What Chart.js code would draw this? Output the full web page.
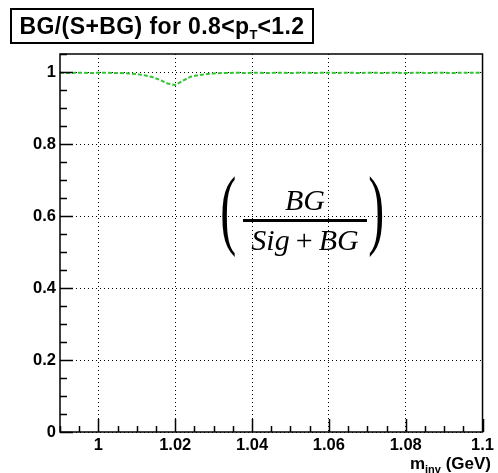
<!DOCTYPE html>
<html>
<head>
<meta charset="utf-8">
<script src="https://cdn.jsdelivr.net/npm/chart.js@4.4.1/dist/chart.umd.min.js"></script>
<style>
  html, body { margin: 0; padding: 0; background: #fff; }
  #wrap { position: relative; width: 498px; height: 473px; overflow: hidden; background: #fff; }
  #c { position: absolute; left: 0; top: 0; }
  .title { position: absolute; left: 10px; top: 8px; width: 300px; height: 32px; border: 2px solid #000;
           font-family: "Liberation Sans", Arial, sans-serif; font-weight: bold; font-size: 23px; line-height: 32px;
           letter-spacing: 0.4px; text-align: center; white-space: nowrap; box-sizing: content-box; }
  .title sub { font-size: 13px; vertical-align: -5px; line-height: 0; letter-spacing: 0; }
  .xtitle { position: absolute; right: 7px; top: 454px; font-family: "Liberation Sans", Arial, sans-serif;
            font-weight: bold; font-size: 17px; white-space: nowrap; }
  .xtitle sub { font-size: 11px; vertical-align: -4px; line-height: 0; }
  .paren { position: absolute; font-family: "Liberation Serif", "Times New Roman", serif; font-size: 80px;
           line-height: 1; transform-origin: center center; }
  .frac { position: absolute; font-family: "Liberation Serif", "Times New Roman", serif; font-style: italic;
          font-size: 30px; text-align: center; white-space: nowrap; }
  .fline { position: absolute; height: 3px; background: #000; }
</style>
</head>
<body>
<div id="wrap">
  <canvas id="c" width="498" height="473"></canvas>
  <div class="title">BG/(S+BG) for 0.8&lt;p<sub>T</sub>&lt;1.2</div>
  <div class="paren" id="lp" style="left:215px; top:168px; transform:scale(0.6,1.12);">(</div>
  <div class="paren" id="rp" style="left:363px; top:168px; transform:scale(0.6,1.12);">)</div>
  <div class="frac" style="left:243px; width:124px; top:183px;">BG</div>
  <div class="fline" style="left:243px; width:124px; top:219px;"></div>
  <div class="frac" style="left:240px; width:130px; top:223px;">Sig<span style="font-style:normal">&#8201;+&#8201;</span>BG</div>
  <div class="xtitle">m<sub>inv</sub> (GeV)</div>
</div>
<script>
// ---- data ----
const massBins = [
  0.990, 0.992, 0.994, 0.996, 0.998, 1.000, 1.002, 1.004, 1.006, 1.008,
  1.010, 1.012, 1.014, 1.016, 1.018, 1.020, 1.022, 1.024, 1.026, 1.028,
  1.030, 1.032, 1.034, 1.036, 1.038, 1.040, 1.042, 1.044, 1.046, 1.048,
  1.050, 1.052, 1.054, 1.056, 1.058, 1.060, 1.062, 1.064, 1.066, 1.068,
  1.070, 1.072, 1.074, 1.076, 1.078, 1.080, 1.082, 1.084, 1.086, 1.088,
  1.090, 1.092, 1.094, 1.096, 1.098, 1.100
];
const bgFraction = [
  0.998, 0.997, 0.998, 0.998, 0.997, 0.998, 0.998, 0.997, 0.997, 0.996,
  0.994, 0.991, 0.986, 0.978, 0.968, 0.964, 0.976, 0.987, 0.991, 0.994,
  0.996, 0.997, 0.997, 0.998, 0.997, 0.998, 0.998, 0.997, 0.998, 0.998,
  0.997, 0.998, 0.998, 0.997, 0.998, 0.998, 0.997, 0.998, 0.998, 0.997,
  0.998, 0.998, 0.997, 0.998, 0.998, 0.997, 0.998, 0.998, 0.997, 0.998,
  0.998, 0.997, 0.998, 0.998, 0.998, 0.998
];
const xMajorTicks = [1.00, 1.02, 1.04, 1.06, 1.08, 1.10];
const xTickLabels = ['1', '1.02', '1.04', '1.06', '1.08', '1.1'];
const yMajorTicks = [0, 0.2, 0.4, 0.6, 0.8, 1.0];
const yTickLabels = ['0', '0.2', '0.4', '0.6', '0.8', '1'];
const xRange = [0.99, 1.10];
const yRange = [0, 1.05];
const xMinorStep = 0.005;
const yMinorStep = 0.05;

const tickFont = { family: '"Liberation Sans", Arial, sans-serif', weight: 'bold', size: 16.5 };

const frameTicks = {
  id: 'frameTicks',
  afterDraw(chart) {
    const { ctx, chartArea: a, scales: { x, y } } = chart;
    ctx.save();
    ctx.strokeStyle = '#000';
    ctx.lineWidth = 1.5;
    ctx.strokeRect(a.left, a.top, a.right - a.left, a.bottom - a.top);
    ctx.beginPath();
    const nx = Math.round((xRange[1] - xRange[0]) / xMinorStep);
    for (let i = 0; i <= nx; i++) {
      const v = xRange[0] + i * xMinorStep;
      const px = Math.round(x.getPixelForValue(v)) + 0.5;
      const major = xMajorTicks.some(t => Math.abs(t - v) < 1e-6);
      const len = major ? 13 : 6;
      ctx.moveTo(px, a.bottom);
      ctx.lineTo(px, a.bottom - len);
    }
    const ny = Math.round((yRange[1] - yRange[0]) / yMinorStep);
    for (let i = 0; i <= ny; i++) {
      const v = yRange[0] + i * yMinorStep;
      const py = Math.round(y.getPixelForValue(v)) + 0.5;
      const major = yMajorTicks.some(t => Math.abs(t - v) < 1e-6);
      const len = major ? 13 : 7;
      ctx.moveTo(a.left, py);
      ctx.lineTo(a.left + len, py);
    }
    ctx.stroke();
    ctx.restore();
  }
};

new Chart(document.getElementById('c'), {
  type: 'line',
  data: {
    datasets: [{
      data: massBins.map((m, i) => ({ x: m, y: bgFraction[i] })),
      borderColor: '#33c433',
      borderWidth: 2,
      borderDash: [4, 2],
      pointRadius: 0,
      fill: false,
      tension: 0
    }]
  },
  plugins: [frameTicks],
  options: {
    responsive: false,
    animation: false,
    devicePixelRatio: 1,
    layout: { padding: { left: 0, top: 54, right: 7, bottom: 0 } },
    plugins: { legend: { display: false }, tooltip: { enabled: false }, title: { display: false } },
    scales: {
      x: {
        type: 'linear', min: xRange[0], max: xRange[1],
        afterFit(s) { s.height = 41; },
        afterBuildTicks(s) { s.ticks = xMajorTicks.map(v => ({ value: v })); },
        ticks: {
          autoSkip: false, maxRotation: 0, padding: 4, color: '#000', font: tickFont,
          callback(v) { const i = xMajorTicks.findIndex(t => Math.abs(t - v) < 1e-6); return i >= 0 ? xTickLabels[i] : ''; }
        },
        grid: { color: '#000', lineWidth: 1, drawTicks: false },
        border: { display: false, dash: [1, 3] }
      },
      y: {
        type: 'linear', min: yRange[0], max: yRange[1],
        afterFit(s) { s.width = 60; },
        afterBuildTicks(s) { s.ticks = yMajorTicks.map(v => ({ value: v })); },
        ticks: {
          autoSkip: false, padding: 4, color: '#000', font: tickFont,
          callback(v) { const i = yMajorTicks.findIndex(t => Math.abs(t - v) < 1e-6); return i >= 0 ? yTickLabels[i] : ''; }
        },
        grid: { color: '#000', lineWidth: 1, drawTicks: false },
        border: { display: false, dash: [1, 3] }
      }
    }
  }
});
</script>
</body>
</html>
